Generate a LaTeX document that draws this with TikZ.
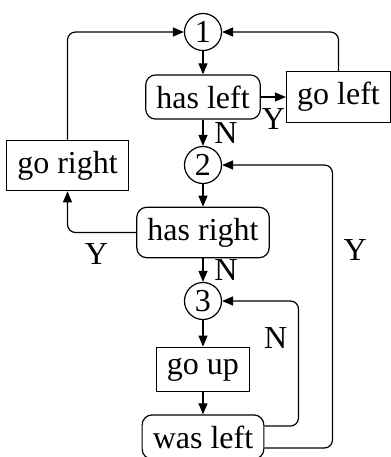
\documentclass[tikz,border=0pt]{standalone}
\usepackage{fontspec}
\setmainfont{Liberation Serif}
\usetikzlibrary{arrows.meta}
\tikzset{
 act/.style={draw,rectangle},
 test/.style={draw,rectangle,rounded corners=5pt},
 point/.style={draw,circle,minimum size=18.5pt,inner sep=0pt},
 flow/.style={-{Triangle[length=5.5pt,width=4.5pt]},rounded corners=4pt}
}
\begin{document}
\begin{tikzpicture}[x=0.5pt,y=-0.5pt,font=\fontsize{16}{19}\selectfont,inner sep=5.33pt,line width=0.6pt]
\useasboundingbox (0,0) rectangle (391,457);
% main column
\node[point] (c1) at (203,32) {1};
\node[test] (hasleft) at (203,97) {has left};
\node[act] (goleft) at (338.5,97) {go left};
\node[point] (c2) at (203,165) {2};
\node[act] (goright) at (67.5,165.5) {go right};
\node[test] (hasright) at (203,232.5) {has right};
\node[point] (c3) at (203,301) {3};
\node[act] (goup) at (203,369.5) {go up};
\node[test] (wasleft) at (203,437) {was left};

\draw[flow] (c1) -- (hasleft);
\draw[flow] (hasleft) -- node[right] {N} (c2);
\draw[flow] (hasleft) -- node[below] {Y} (goleft);
\draw[flow] (goleft) |- (c1);
\draw[flow] (goright) |- (c1);
\draw[flow] (c2) -- (hasright);
\draw[flow] (hasright) -| node[pos=.29,below] {Y} (goright);
\draw[flow] (hasright) -- node[right] {N} (c3);
\draw[flow] (c3) -- (goup);
\draw[flow] (goup) -- (wasleft);
% back edges
\draw[flow] ([yshift=5.5pt]wasleft.east) -- ++(34,0) |- node[pos=.35,left] {N} (c3);
\draw[flow] ([yshift=-5.5pt]wasleft.east) -- ++(68,0) |- node[pos=.35,right] {Y} (c2);
\end{tikzpicture}
\end{document}
